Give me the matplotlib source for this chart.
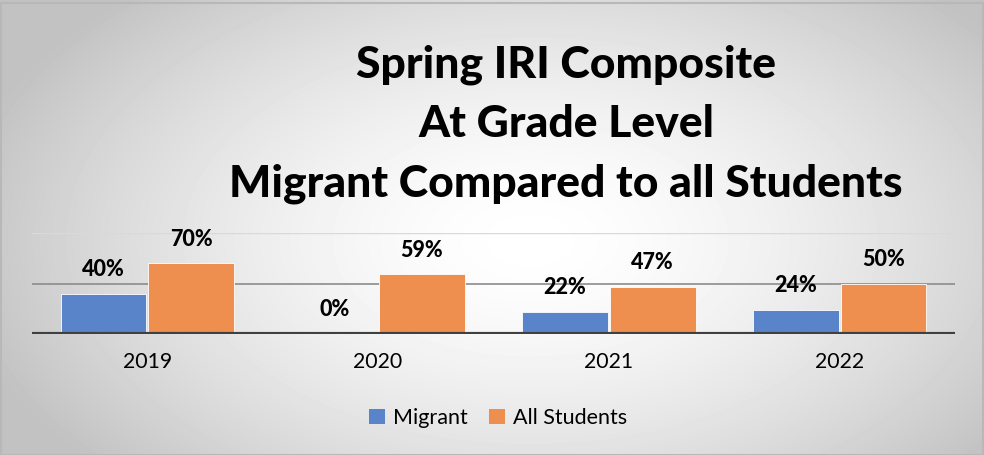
import numpy as np
import matplotlib.pyplot as plt
from matplotlib.patches import Patch, Rectangle

plt.rcParams['font.family'] = ['Lato', 'DejaVu Sans']

years = ['2019', '2020', '2021', '2022']
migrant = [40, 0, 22, 24]
all_students = [70, 59, 47, 50]
title = 'Spring IRI Composite\nAt Grade Level\nMigrant Compared to all Students'

BLUE = '#5A84C9'
ORANGE = '#EE8F50'

fig = plt.figure(figsize=(9.84, 4.55), dpi=100)

# background: soft radial gradient, white in the middle, grey at the edges
bg = fig.add_axes([0, 0, 1, 1], zorder=-10)
yy, xx = np.mgrid[0:455, 0:984]
r = np.sqrt(((xx - 530) / 580.0) ** 2 + ((yy - 240) / 340.0) ** 2)
shade = 1.0 - 0.24 * np.clip(r, 0, 1) ** 1.6
bg.imshow(shade, cmap='gray', vmin=0, vmax=1, aspect='auto',
          extent=[0, 1, 0, 1], interpolation='bilinear')
bg.add_patch(Rectangle((0.001, 0.0), 0.998, 0.993, fill=False,
                       edgecolor='#B8B8B8', linewidth=1.5))
bg.set_xlim(0, 1)
bg.set_ylim(0, 1)
bg.axis('off')

ax = fig.add_axes([32 / 984, 121 / 455, 923 / 984, 101 / 455])
ax.patch.set_alpha(0)

x = np.arange(len(years))
w = 0.372
b1 = ax.bar(x - 0.19, migrant, w, color=BLUE, edgecolor='white',
            linewidth=0.6, zorder=3)
b2 = ax.bar(x + 0.19, all_students, w, color=ORANGE, edgecolor='white',
            linewidth=0.6, zorder=3)

for bars, vals in ((b1, migrant), (b2, all_students)):
    for bar, v in zip(bars, vals):
        ax.annotate(f'{v}%', (bar.get_x() + bar.get_width() / 2, v),
                    xytext=(0, 24), textcoords='offset pixels',
                    ha='center', va='center', fontsize=15.5,
                    fontweight='black', color='black', zorder=5)

ax.set_xlim(-0.5, 3.5)
ax.set_ylim(0, 100)
ax.axhline(50, color='#8C8C8C', linewidth=1.2, zorder=1)
ax.axhline(100, color='#D9D9D9', linewidth=1.0, zorder=1)
ax.axhline(0, color='#404040', linewidth=3, zorder=4)
for s in ax.spines.values():
    s.set_visible(False)
ax.set_yticks([])
ax.set_xticks(x)
ax.set_xticklabels(years, fontsize=15.3, color='black')
ax.tick_params(axis='x', length=0, pad=13)

fig.text(566 / 984, 1 - 124 / 455, title, ha='center', va='center',
         fontsize=32, fontweight='black', linespacing=1.58)

handles = [Patch(facecolor=BLUE, edgecolor='none', label='Migrant'),
           Patch(facecolor=ORANGE, edgecolor='none', label='All Students')]
fig.legend(handles=handles, loc='center', bbox_to_anchor=(498 / 984, 1 - 418 / 455),
           ncol=2, frameon=False, fontsize=15.5, handlelength=0.75,
           handleheight=0.75, handletextpad=0.4, columnspacing=0.95)

fig.savefig('out.png', dpi=100)
